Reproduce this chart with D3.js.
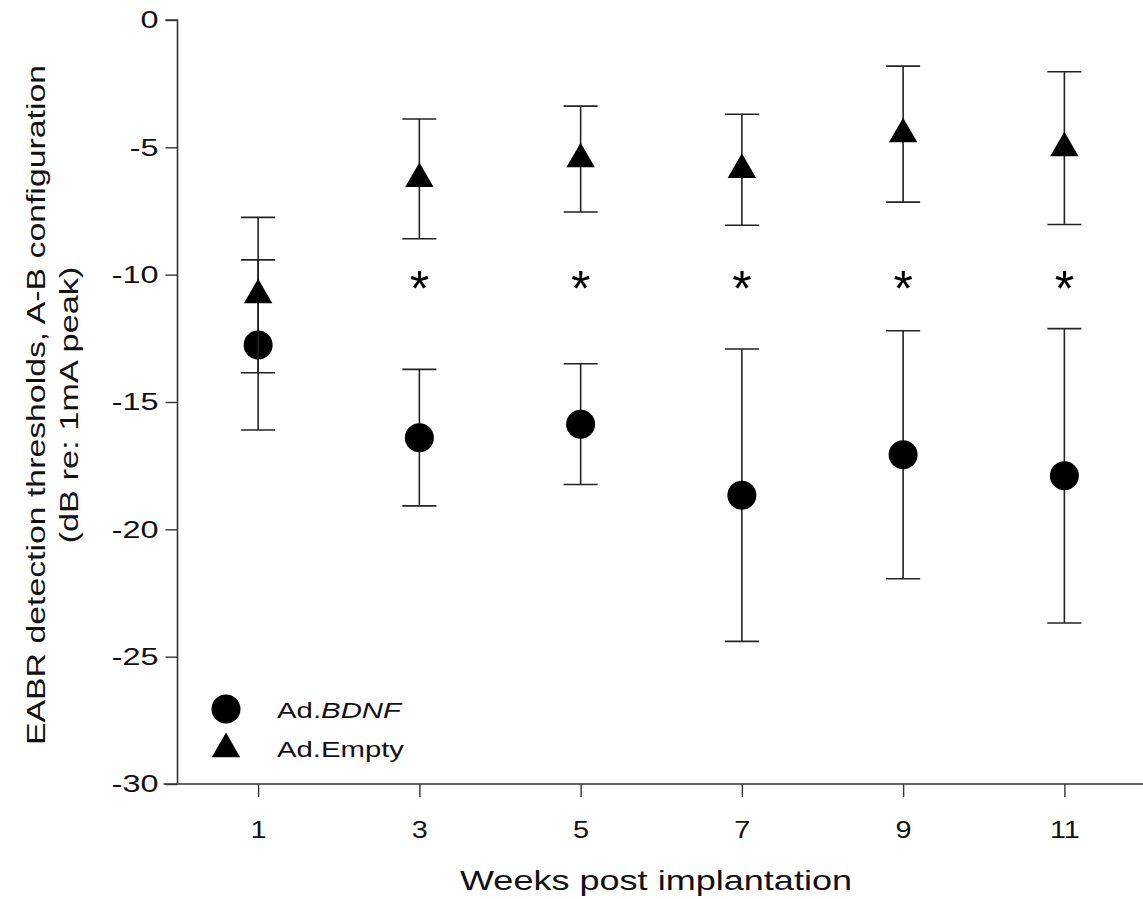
<!DOCTYPE html>
<html><head><meta charset="utf-8">
<script src="https://cdn.jsdelivr.net/npm/d3@7"></script>
<style>body{margin:0;background:#fff;} svg{display:block;font-family:Arial,"Liberation Sans",sans-serif;}</style>
</head><body>
<script>
const weeks = [1, 3, 5, 7, 9, 11];
const bdnfMean = [-12.76, -16.40, -15.87, -18.66, -17.07, -17.90];
const bdnfErr  = [3.34, 2.68, 2.37, 5.74, 4.87, 5.78];
const emptyMean = [-10.80, -6.24, -5.46, -5.88, -4.48, -5.03];
const emptyErr  = [3.05, 2.35, 2.08, 2.18, 2.67, 3.00];
const sigWeeks = [3, 5, 7, 9, 11];
const sigLevel = -10.1;
const xTicks = [1, 3, 5, 7, 9, 11];
const yTicks = [0, -5, -10, -15, -20, -25, -30];

const W = 1143, H = 899;
const svg = d3.select("body").append("svg").attr("width", W).attr("height", H);
const x = d3.scaleLinear().domain([0, 12]).range([177.5, 1145]);
const y = d3.scaleLinear().domain([-30, 0]).range([784, 20]);

function stretch(sel, k) {
  sel.each(function() {
    const len = this.getComputedTextLength();
    d3.select(this).attr("textLength", len * k).attr("lengthAdjust", "spacingAndGlyphs");
  });
}

// axes
const yAxis = svg.append("g").attr("transform", `translate(${x(0)},0)`)
  .call(d3.axisLeft(y).tickValues(yTicks).tickSize(12).tickPadding(7).tickFormat(d => String(d)));
const xAxis = svg.append("g").attr("transform", `translate(0,${y(-30)})`)
  .call(d3.axisBottom(x).tickValues(xTicks).tickSize(13).tickPadding(24).tickFormat(d => String(d)));
[yAxis, xAxis].forEach(g => {
  g.attr("font-family", null).attr("font-size", null);
  g.select(".domain").attr("stroke", "#333").attr("stroke-width", 1.6);
  g.selectAll(".tick line").attr("stroke", "#333").attr("stroke-width", 1.4);
  g.selectAll(".tick text").attr("font-size", 24).attr("fill", "#111");
});
yAxis.select(".domain").attr("d", `M-12,${y(0)}H0V${y(-30)}`);
xAxis.select(".domain").attr("d", `M${x(0)-14},0H${W}`);
stretch(yAxis.selectAll(".tick text"), 1.35);
stretch(xAxis.selectAll(".tick text"), 1.2);

const series = [
  {name: "bdnf", mean: bdnfMean, err: bdnfErr, sym: d3.symbolCircle, size: Math.PI*14.5*14.5},
  {name: "empty", mean: emptyMean, err: emptyErr, sym: d3.symbolTriangle, size: 350}
];
const capW = 17;
series.forEach(s => {
  const g = svg.append("g");
  const data = weeks.map((w, i) => ({w, m: s.mean[i], e: s.err[i]}));
  g.selectAll("line.v").data(data).join("line")
    .attr("x1", d => x(d.w)).attr("x2", d => x(d.w))
    .attr("y1", d => y(d.m + d.e)).attr("y2", d => y(d.m - d.e))
    .attr("stroke", "#222").attr("stroke-width", 1.6);
  g.selectAll("line.t").data(data).join("line")
    .attr("x1", d => x(d.w) - capW).attr("x2", d => x(d.w) + capW)
    .attr("y1", d => y(d.m + d.e)).attr("y2", d => y(d.m + d.e))
    .attr("stroke", "#222").attr("stroke-width", 1.6);
  g.selectAll("line.b").data(data).join("line")
    .attr("x1", d => x(d.w) - capW).attr("x2", d => x(d.w) + capW)
    .attr("y1", d => y(d.m - d.e)).attr("y2", d => y(d.m - d.e))
    .attr("stroke", "#222").attr("stroke-width", 1.6);
  g.selectAll("path").data(data).join("path")
    .attr("d", d3.symbol().type(s.sym).size(s.size))
    .attr("transform", d => `translate(${x(d.w)},${y(d.m)})`)
    .attr("fill", "#000");
});

// significance asterisks
svg.append("g").selectAll("text").data(sigWeeks).join("text")
  .attr("x", d => x(d)).attr("y", y(sigLevel) + 29)
  .attr("text-anchor", "middle").attr("font-size", 50).attr("fill", "#000")
  .text("*");

// legend
const leg = svg.append("g");
leg.append("path").attr("d", d3.symbol().type(d3.symbolCircle).size(Math.PI*14.5*14.5)())
  .attr("transform", "translate(226,709)").attr("fill", "#000");
leg.append("path").attr("d", d3.symbol().type(d3.symbolTriangle).size(350)())
  .attr("transform", "translate(226,749)").attr("fill", "#000");
const t1 = leg.append("text").attr("x", 277).attr("y", 718).attr("font-size", 22).attr("fill", "#111")
  .attr("textLength", 124).attr("lengthAdjust", "spacingAndGlyphs");
t1.append("tspan").text("Ad.");
t1.append("tspan").attr("font-style", "italic").text("BDNF");
leg.append("text").attr("x", 277).attr("y", 757).attr("font-size", 22).attr("fill", "#111")
  .attr("textLength", 127).attr("lengthAdjust", "spacingAndGlyphs").text("Ad.Empty");

// axis titles
svg.append("text").attr("x", 656).attr("y", 890).attr("text-anchor", "middle")
  .attr("font-size", 28).attr("fill", "#111")
  .attr("textLength", 392).attr("lengthAdjust", "spacingAndGlyphs").text("Weeks post implantation");
const yl = svg.append("g").attr("transform", "translate(0,405) rotate(-90)");
yl.append("text").attr("x", 0).attr("y", 45).attr("text-anchor", "middle")
  .attr("font-size", 26).attr("fill", "#111")
  .attr("textLength", 680).attr("lengthAdjust", "spacingAndGlyphs")
  .text("EABR detection thresholds, A-B configuration");
yl.append("text").attr("x", 0).attr("y", 78).attr("text-anchor", "middle")
  .attr("font-size", 26).attr("fill", "#111")
  .attr("textLength", 277).attr("lengthAdjust", "spacingAndGlyphs")
  .text("(dB re: 1mA peak)");
</script>
</body></html>
